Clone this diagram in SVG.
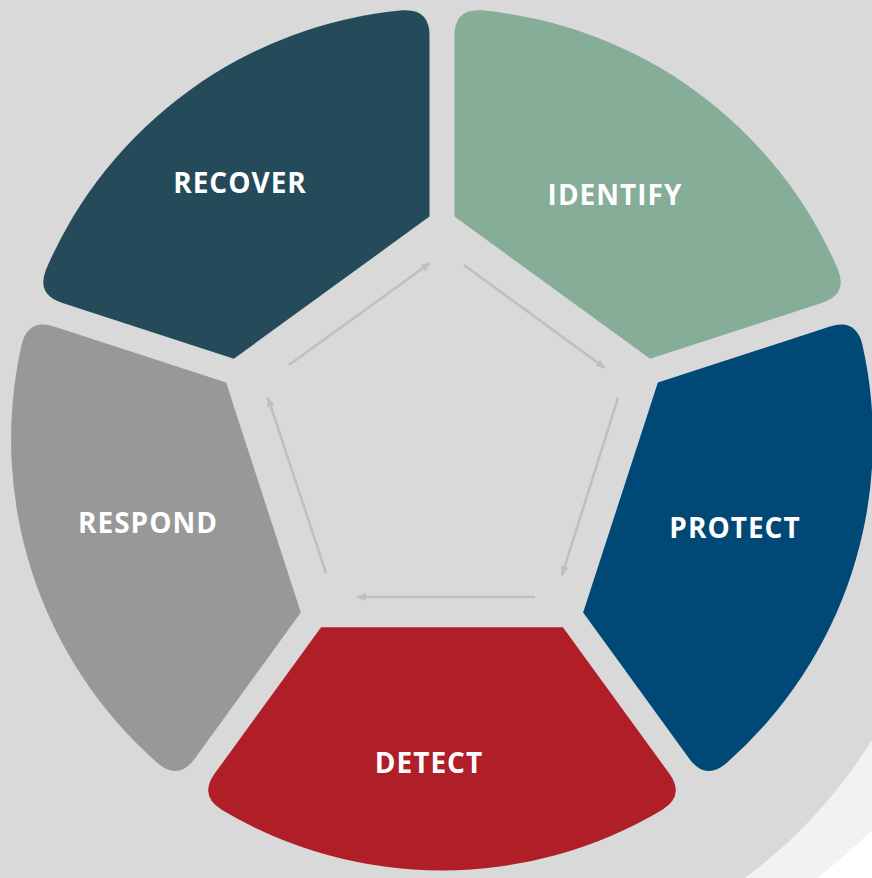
<svg xmlns="http://www.w3.org/2000/svg" xmlns:xlink="http://www.w3.org/1999/xlink" width="872" height="878" viewBox="0 0 872 878">
<style>
.lbl{font-family:"Open Sans","Liberation Sans",sans-serif;font-weight:700;font-size:28px;fill:#ffffff;text-anchor:middle;letter-spacing:1px}
.arr{stroke:#bfbfbf;stroke-width:2.5;fill:none;marker-end:url(#ah)}
</style>
<defs>
<path id="seg" d="M -120.9 -187.7 L 120.9 -187.7 L 227.3 -334.1 Q 243.1 -356 220.4 -370.3 A 431 431 0 0 0 -220.4 -370.3 Q -243.1 -356 -227.3 -334.1 Z"/>
<marker id="ah" viewBox="0 0 10 8" markerUnits="userSpaceOnUse" markerWidth="10" markerHeight="8" refX="9" refY="4" orient="auto">
<path d="M0,0 L10,4 L0,8 Z" fill="#bfbfbf"/>
</marker>
</defs>
<rect x="0" y="0" width="872" height="878" fill="#d9d9d9"/>
<path d="M 872 740 A 507 507 0 0 1 745 878 L 872 878 Z" fill="#f2f2f2"/>
<path d="M 872 830 A 556 556 0 0 1 817 878 L 872 878 Z" fill="#ffffff"/>
<g id="identify">
<use xlink:href="#seg" href="#seg" transform="translate(442 439.5) rotate(36)" fill="#85ad97"/>
<text class="lbl" x="615" y="205">IDENTIFY</text>
</g>
<g id="protect">
<use xlink:href="#seg" href="#seg" transform="translate(442 439.5) rotate(108)" fill="#004876"/>
<text class="lbl" x="735" y="538">PROTECT</text>
</g>
<g id="detect">
<use xlink:href="#seg" href="#seg" transform="translate(442 439.5) rotate(180)" fill="#b01e28"/>
<text class="lbl" x="429" y="773">DETECT</text>
</g>
<g id="respond">
<use xlink:href="#seg" href="#seg" transform="translate(442 439.5) rotate(252)" fill="#989898"/>
<text class="lbl" x="148" y="533">RESPOND</text>
</g>
<g id="recover">
<use xlink:href="#seg" href="#seg" transform="translate(442 439.5) rotate(324)" fill="#254a5a"/>
<text class="lbl" x="240" y="193">RECOVER</text>
</g>
<g id="connectors">
<line class="arr" x1="289" y1="365" x2="430" y2="263"/>
<line class="arr" x1="464" y1="265" x2="605" y2="368"/>
<line class="arr" x1="618" y1="398" x2="562" y2="575"/>
<line class="arr" x1="535" y1="597" x2="357" y2="597"/>
<line class="arr" x1="326" y1="573" x2="268" y2="398"/>
</g>
</svg>
